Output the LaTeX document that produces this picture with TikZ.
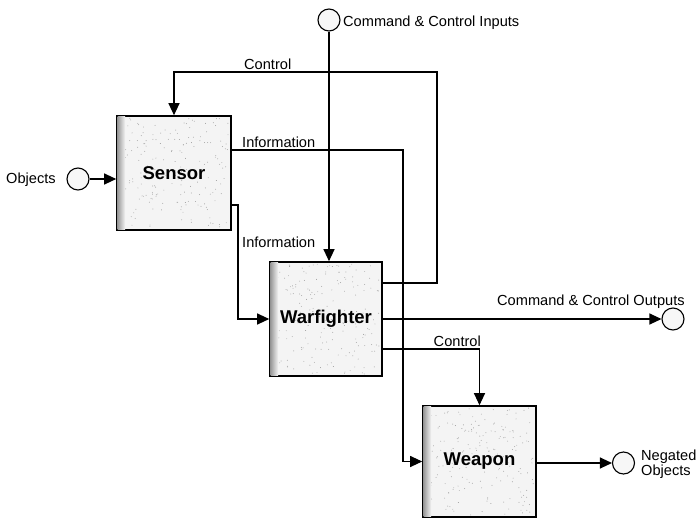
\documentclass[tikz,border=0pt]{standalone}
\usepackage{fontspec}
\setmainfont{Liberation Sans}
\usetikzlibrary{arrows.meta,calc}

% speckled texture inside a block (bounds in picture units)
\newcommand\speckle[4]{%
  \foreach \k in {1,...,200}{%
    \pgfmathsetmacro\sx{#1+rnd*(#3-#1)}%
    \pgfmathsetmacro\sy{#2+rnd*(#4-#2)}%
    \fill[gray!80] (\sx,\sy) circle[radius=0.45pt];}%
  \shade[left color=gray!80, right color=gray!10] (#1-1.5,#2-1.5) rectangle (#1+6,#4+1.5);%
}

\begin{document}
\begin{tikzpicture}[x=1pt,y=-1pt,
  block/.style={draw, line width=1.6pt, fill=gray!9, minimum width=#1, minimum height=114pt,
    inner sep=0pt},
  blocktext/.style={font=\fontsize{18.5}{21}\selectfont\bfseries},
  port/.style={draw, circle, line width=1.1pt, fill=gray!6, minimum size=22pt, inner sep=0pt},
  flow/.style={line width=1.1pt, -{Triangle[length=12pt,width=11pt]}},
  lbl/.style={font=\fontsize{14.6}{16}\selectfont, inner sep=0pt}]
\useasboundingbox (0,0) rectangle (697,520);

% function blocks
\node[block=114pt] (sn) at (174,173) {};
\node[block=112pt] (wf) at (326,319) {};
\node[block=113pt, minimum height=111pt] (wp) at (479.5,461.5) {};
\pgfmathsetseed{11}
\speckle{119}{118}{229}{228}
\speckle{272}{264}{380}{374}
\speckle{425}{408}{534}{515}
\node[blocktext] at (sn) {Sensor};
\node[blocktext] at (wf) {Warfighter};
\node[blocktext] at (wp) {Weapon};

% external ports
\node[port] (obj) at (78,179) {};
\node[port] (cin) at (329,20) {};
\node[port] (cout) at (673,319) {};
\node[port] (neg) at (623.5,463) {};

% routing corners
\coordinate (ctlc) at (437,72);
\coordinate (inf1) at (403,150);
\coordinate (inf2) at (238,205);

% connectors
\draw[flow] (obj) -- (sn.west |- obj);
\draw[flow] ([yshift=36pt]wf.east) -| (ctlc) -| (sn.north);
\draw[flow] ([yshift=23pt]sn.east) -- (inf1) |- (wp.west);
\draw[flow] ([yshift=-32pt]sn.east) -- (inf2) |- (wf.west);
\draw[flow] (cin) -- (cin |- wf.north);
\draw[flow] (wf.east) -- (cout);
\draw[flow] ([yshift=-30pt]wf.east) -| (wp.north);
\draw[flow] (wp.east |- neg) -- (neg);

% labels
\node[lbl, anchor=base west] at (244,69) {Control};
\node[lbl, anchor=base west] at (242,147) {Information};
\node[lbl, anchor=base west] at (242,247) {Information};
\node[lbl, anchor=base east] at (481,346) {Control};
\node[lbl, anchor=base west] at (497,305) {Command \& Control Outputs};
\node[lbl, anchor=base west] at (343,26) {Command \& Control Inputs};
\node[lbl, anchor=base west] at (6,183) {Objects};
\node[lbl, anchor=west, align=left, font=\fontsize{14.6}{13}\selectfont] at (641,464) {Negated\\Objects};
\end{tikzpicture}
\end{document}
